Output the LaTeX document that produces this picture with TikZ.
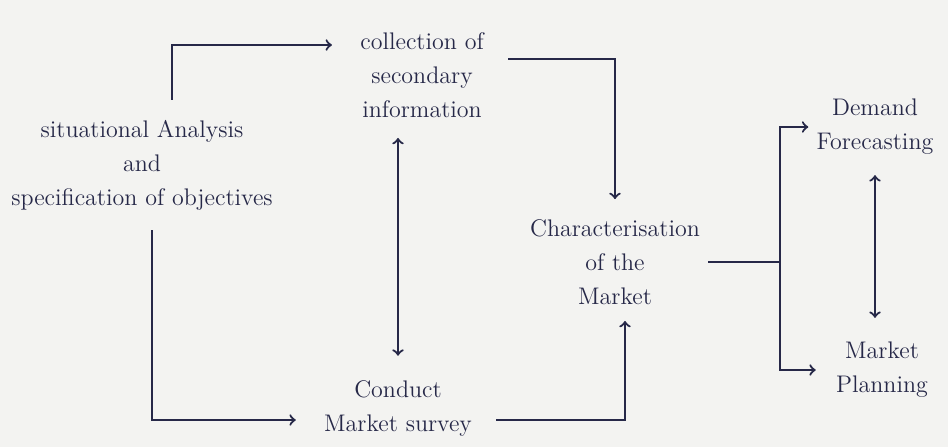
\documentclass[tikz,border=0pt]{standalone}
\usetikzlibrary{positioning,backgrounds}
\definecolor{pen}{RGB}{38,40,72}
\definecolor{paper}{RGB}{243,243,241}
\tikzset{
  step box/.style={align=center, text=pen, font=\fontsize{12}{17}\selectfont, inner sep=2pt},
  flow/.style={draw=pen, line width=1.1pt, ->},
  link/.style={draw=pen, line width=1.1pt}
}
\begin{document}
\begin{tikzpicture}[x=0.5pt,y=-0.5pt]
    \fill[paper] (0,0) rectangle (948,447);
    \useasboundingbox (0,0) rectangle (948,447);
    \node[step box] (sit) at (142,165) {situational Analysis\\and\\specification of objectives};
      \node[step box] (coll) at (422,75) {collection of\\secondary\\information};
      \node[step box] (char) at (615,262) {Characterisation\\of the\\Market};
      \node[step box] (survey) at (398,408) {Conduct\\Market survey};
      \node[step box] (demand) at (875,127) {Demand\\Forecasting};
      \node[step box] (plan) at (882,370) {Market\\Planning};
      \coordinate (fork) at (780,262);
      \path[flow] ([xshift=15pt,yshift=8pt]sit.north) |- ([xshift=-12pt,yshift=15pt]coll.west);
      \path[flow] ([xshift=10pt,yshift=8pt]coll.east) -| ([yshift=8pt]char.north);
      \path[flow, <->] ([yshift=10pt]survey.north) -- ([yshift=-8pt]survey.north |- coll.south);
      \path[flow] ([xshift=5pt,yshift=-8pt]sit.south) |- ([xshift=-12pt,yshift=-6pt]survey.west);
      \path[flow] ([xshift=10pt,yshift=-6pt]survey.east) -| ([xshift=5pt,yshift=-6pt]char.south);
      \path[link] ([xshift=2pt]char.east) -- (fork);
      \path[flow] (fork) |- ([xshift=-2pt]demand.west);
      \path[flow] (fork) |- ([xshift=-8pt]plan.west);
      \path[flow, <->] ([yshift=-8pt]demand.south) -- ([yshift=10pt]demand.south |- plan.north);
    \end{tikzpicture}
\end{document}
